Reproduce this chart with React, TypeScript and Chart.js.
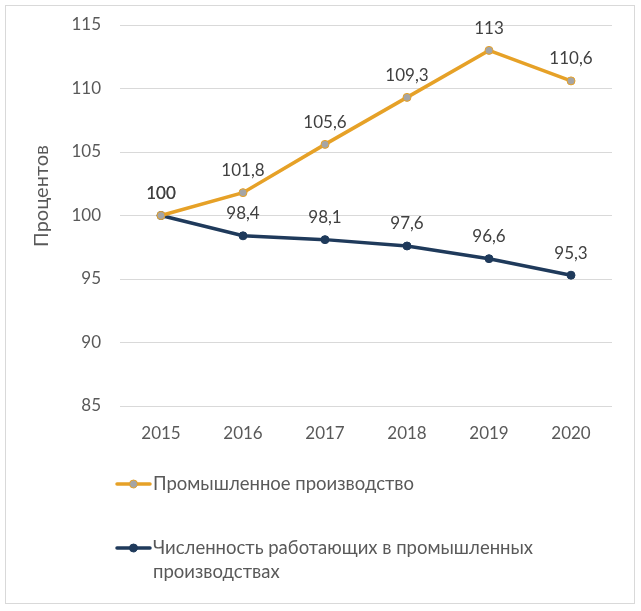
import React, { useEffect, useRef } from "react";
import { Chart, registerables } from "chart.js";

Chart.register(...registerables);

const categories = ["2015", "2016", "2017", "2018", "2019", "2020"];
const seriesNames = [
  "Промышленное производство",
  "Численность работающих в промышленных производствах",
];
const legendLines = [
  ["Промышленное производство"],
  ["Численность работающих в промышленных", "производствах"],
];
const productionValues = [100, 101.8, 105.6, 109.3, 113, 110.6];
const workersValues = [100, 98.4, 98.1, 97.6, 96.6, 95.3];
const yAxisTitle = "Процентов";
const yMin = 85;
const yMax = 115;
const yStep = 5;

const FONT = "Lato, 'Noto Sans', sans-serif";
const ORANGE = "#E6A127";
const NAVY = "#1F3A5B";

const fmt = (v: number) => String(v).replace(".", ",");

const decorPlugin = {
  id: "decor",
  afterDraw(chart: any) {
    const ctx = chart.ctx;
    ctx.save();
    // outer border
    ctx.strokeStyle = "#D9D9D9";
    ctx.lineWidth = 1;
    ctx.strokeRect(5.5, 5.5, 629, 598);

    // data labels
    ctx.fillStyle = "#404040";
    ctx.font = `17px ${FONT}`;
    ctx.textAlign = "center";
    ctx.textBaseline = "middle";
    chart.data.datasets.forEach((ds: any, i: number) => {
      const meta = chart.getDatasetMeta(i);
      meta.data.forEach((pt: any, j: number) => {
        ctx.fillText(fmt(ds.data[j]), pt.x, pt.y - 22);
      });
    });

    // y axis title
    ctx.save();
    ctx.translate(42, 196);
    ctx.rotate(-Math.PI / 2);
    ctx.fillStyle = "#595959";
    ctx.font = `20px ${FONT}`;
    ctx.fillText(yAxisTitle, 0, 0);
    ctx.restore();

    // legend
    const rows = [484, 548];
    chart.data.datasets.forEach((ds: any, i: number) => {
      const y = rows[i];
      ctx.strokeStyle = ds.borderColor;
      ctx.lineWidth = 3.5;
      ctx.lineCap = "round";
      ctx.beginPath();
      ctx.moveTo(117, y);
      ctx.lineTo(150, y);
      ctx.stroke();
      ctx.beginPath();
      ctx.arc(133.5, y, 4, 0, Math.PI * 2);
      ctx.fillStyle = ds.pointBackgroundColor;
      ctx.fill();
      ctx.lineWidth = 1;
      ctx.strokeStyle = ds.pointBorderColor;
      ctx.stroke();
      ctx.fillStyle = "#595959";
      ctx.font = `18.5px ${FONT}`;
      ctx.textAlign = "left";
      ctx.textBaseline = "middle";
      legendLines[i].forEach((line, k) => {
        ctx.fillText(line, 153, y + k * 24);
      });
    });
    ctx.restore();
  },
};

export default function App() {
  const ref = useRef<HTMLCanvasElement | null>(null);
  useEffect(() => {
    if (!ref.current) return;
    const chart = new Chart(ref.current, {
      type: "line",
      data: {
        labels: categories,
        datasets: [
          {
            label: seriesNames[0],
            data: productionValues,
            borderColor: ORANGE,
            backgroundColor: ORANGE,
            pointBackgroundColor: "#A5A5A5",
            pointBorderColor: ORANGE,
            pointBorderWidth: 1,
            pointRadius: 4,
            borderWidth: 3.5,
            tension: 0,
          },
          {
            label: seriesNames[1],
            data: workersValues,
            borderColor: NAVY,
            backgroundColor: NAVY,
            pointBackgroundColor: NAVY,
            pointBorderColor: NAVY,
            pointBorderWidth: 1,
            pointRadius: 4,
            borderWidth: 3.5,
            tension: 0,
          },
        ],
      },
      options: {
        animation: false,
        responsive: false,
        layout: { padding: { left: 0, right: 29, top: 25, bottom: 165 } },
        plugins: {
          legend: { display: false },
          tooltip: { enabled: false },
        },
        scales: {
          x: {
            offset: true,
            grid: { display: false, drawTicks: false },
            border: { display: false },
            ticks: {
              color: "#595959",
              font: { family: FONT, size: 17 },
              padding: 17,
              maxRotation: 0,
            },
            afterFit: (s: any) => {
              s.height = 40;
              s.paddingLeft = 0;
              s.paddingRight = 0;
            },
          },
          y: {
            min: yMin,
            max: yMax,
            grid: { color: "#D9D9D9", drawTicks: false },
            border: { display: false },
            ticks: {
              stepSize: yStep,
              color: "#595959",
              font: { family: FONT, size: 17 },
              padding: 19,
            },
            afterFit: (s: any) => {
              s.width = 120;
              s.paddingTop = 0;
              s.paddingBottom = 0;
            },
          },
        },
      },
      plugins: [decorPlugin],
    });
    return () => chart.destroy();
  }, []);
  return (
    <div style={{ position: "absolute", left: 0, top: 0, width: 641, height: 611, background: "#fff" }}>
      <canvas ref={ref} width={641} height={611} style={{ display: "block" }} />
    </div>
  );
}
